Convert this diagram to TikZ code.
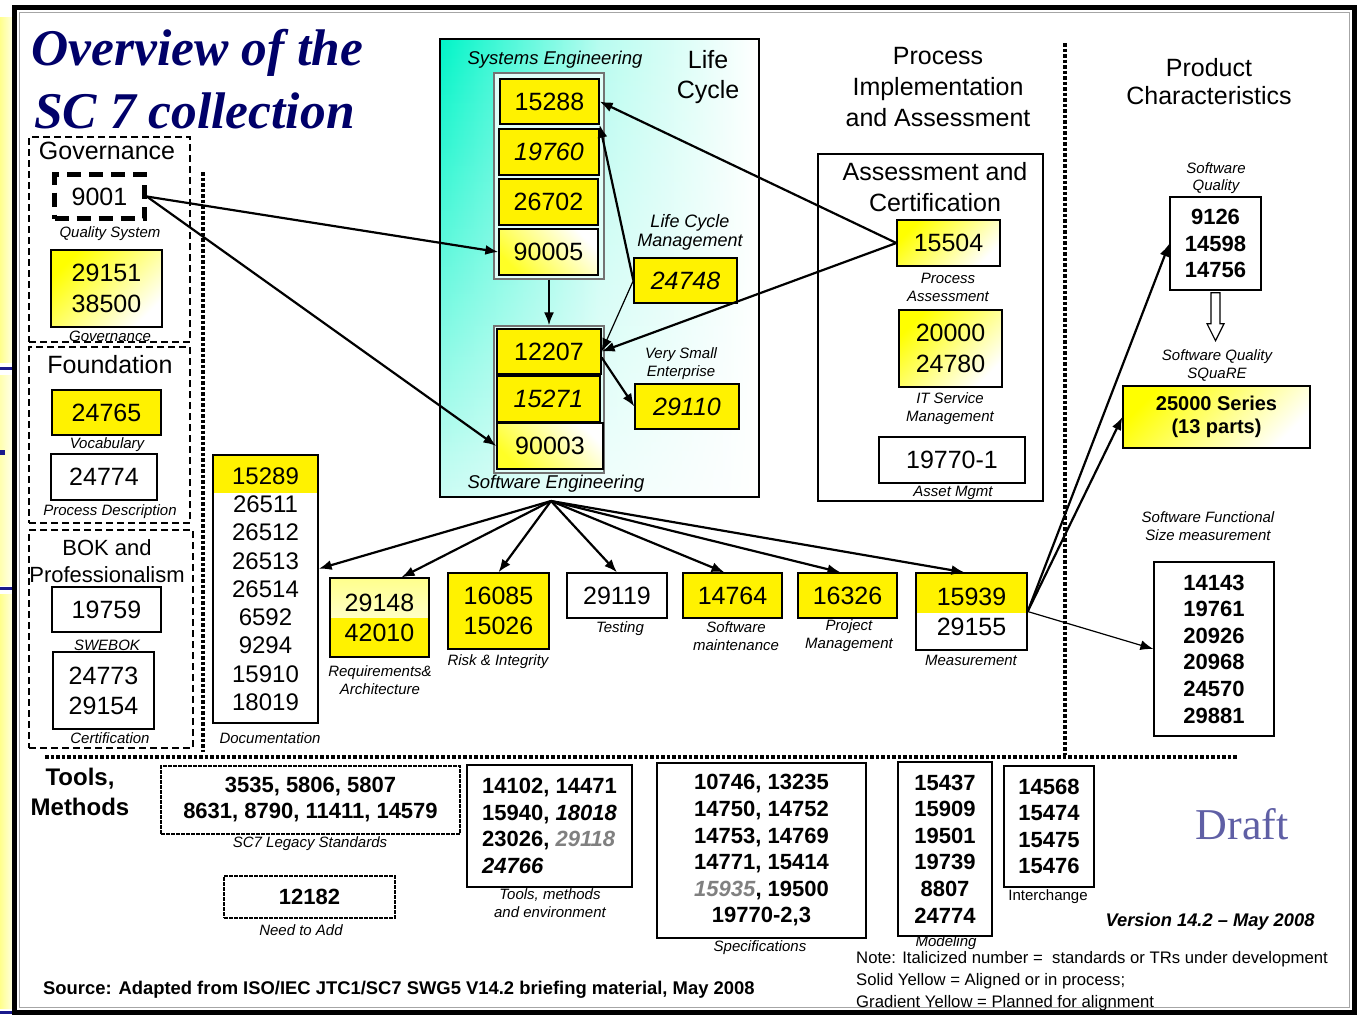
\documentclass[tikz,border=0pt]{standalone}
\usepackage{fontspec}
\setmainfont{Liberation Sans}
\newfontfamily\scserif{Liberation Serif}
\usepackage{tikz}
\usetikzlibrary{arrows.meta,positioning,calc,fadings}
\definecolor{scnavy}{RGB}{0,0,105}
\definecolor{scturq}{RGB}{0,245,200}
\definecolor{scdraft}{RGB}{95,95,165}
\definecolor{scstrip}{RGB}{255,255,140}
\definecolor{scblue}{RGB}{25,25,140}
\tikzset{
scbox/.style={rectangle,draw,line width=1.3pt,inner sep=0pt,align=center,font=\fontsize{25}{31}\selectfont},
scital/.style={font=\fontsize{25}{31}\selectfont\itshape},
scyellow/.style={fill=yellow},
scgrad/.style={top color=yellow,bottom color=white,shading angle=45},
scgradlow/.style={top color=white,bottom color=yellow!85,shading angle=-45},
scbold/.style={scbox,font=\fontsize{22}{26.6}\selectfont\bfseries},
scstack/.style={rectangle,draw=black!55,line width=1.2pt,fill=scturq!12,inner sep=0pt},
scgroup/.style={rectangle,draw,line width=1.8pt,dash pattern=on 7pt off 4pt,inner sep=0pt},
scpanel/.style={rectangle,draw,line width=2.2pt,inner sep=0pt},
sclegacy/.style={scbold,line width=1.5pt,dash pattern=on 4pt off 1pt},
schead/.style={align=center,font=\fontsize{25}{31}\selectfont},
sclabel/.style={align=center,font=\fontsize{15}{18}\selectfont\itshape},
scsmall/.style={align=center,font=\fontsize{18.5}{19}\selectfont\itshape},
scnote/.style={anchor=west,font=\fontsize{16.7}{20}\selectfont},
scsep/.style={line width=3.5pt,dash pattern=on 3.5pt off 2pt},
scarr/.style={-{Latex[length=13pt,width=10pt]},line width=2.2pt},
scthin/.style={-{Latex[length=13pt,width=10pt]},line width=1.2pt}
}
\begin{document}
\begin{tikzpicture}[x=1pt,y=-1pt,every node/.style={inner sep=0pt}]
\useasboundingbox (0,0) rectangle (1359,1015);
% slide frame and side strip
\fill[white] (0,0) rectangle (1359,1015);
\shade[left color=scstrip,right color=scstrip!25] (0,17) rectangle (13,362);
\shade[left color=scstrip!70,right color=scstrip!15] (0,375) rectangle (13,585);
\shade[left color=scstrip,right color=scstrip!25] (0,594) rectangle (13,1008);
\draw[scblue,line width=3pt] (0,368) -- (17,368);
\draw[scblue,line width=5pt] (0,452) -- (5,452);
\draw[scblue,line width=3pt] (0,588) -- (17,588);
\draw[scblue,line width=3pt] (0,1012) -- (15,1012);
\draw[line width=5pt] (14.5,7.5) rectangle (1354,1012.5);
\draw[black!35,line width=1pt] (19,12) rectangle (1349,1007);
% title
\node[anchor=base west,text=scnavy,font={\scserif\bfseries\itshape\fontsize{51.5}{60}\selectfont}]
  (title1) at (31,65) {Overview of the};
\node[anchor=base west,text=scnavy,font={\scserif\bfseries\itshape\fontsize{51.5}{60}\selectfont}]
  (title2) at (34,128) {SC 7 collection};
% governance, foundation, BOK
\node[scgroup,minimum width=161,minimum height=205] (govgrp) at (109.5,239.5) {};
\node[schead] (govhead) at (107,151) {Governance};
\node[scbox,line width=4.5pt,dash pattern=on 14pt off 8pt,minimum width=90,minimum height=44]
  (qsys) at (99.5,196.5) {9001};
\node[sclabel] (qsyslbl) at (110,234) {Quality System};
\node[scbox,scgrad,minimum width=111,minimum height=77] (govstd) at (106.5,288.5) {29151\\38500};
\node[sclabel] (govlbl) at (110,336) {Governance};
\node[scgroup,minimum width=161,minimum height=176] (fndgrp) at (109.5,435) {};
\node[schead] (fndhead) at (110,365) {Foundation};
\node[scbox,scyellow,minimum width=109,minimum height=45] (vocab) at (106.5,412.5) {24765};
\node[sclabel] (vocablbl) at (107,445) {Vocabulary};
\node[scbox,minimum width=106,minimum height=46] (procdesc) at (104,477) {24774};
\node[sclabel] (procdesclbl) at (110,512) {Process Description};
\node[scgroup,minimum width=164,minimum height=218] (bokgrp) at (111,639) {};
\node[schead,font=\fontsize{22}{27}\selectfont] (bokhead) at (107,561) {BOK and\\Professionalism};
\node[scbox,minimum width=109,minimum height=45] (swebok) at (106.5,609.5) {19759};
\node[sclabel] (sweboklbl) at (107,645) {SWEBOK};
\node[scbox,font=\fontsize{25}{30}\selectfont,minimum width=101,minimum height=77] (cert) at (103.5,690.5) {24773\\29154};
\node[sclabel] (certlbl) at (110,738) {Certification};
% separators
\draw[scsep] (203,172) -- (203,752);
\draw[scsep] (45,757) -- (1238,757);
\draw[scsep] (1065,43) -- (1065,755);
% life cycle
\node[scpanel,line width=2pt,left color=scturq,right color=white,middle color=scturq!28,
  path picture={\fill[white,path fading=north,fill opacity=0.8] (path picture bounding box.south west) rectangle (path picture bounding box.north east);},
  minimum width=319,minimum height=458] (lcpanel) at (599.5,268) {};
\node[scstack,minimum width=110,minimum height=206] (sysstack) at (549,176) {};
\node[scbox,scyellow,minimum width=99,minimum height=45] (sys15288) at (549.5,101.5) {15288};
\node[scbox,scyellow,scital,minimum width=100,minimum height=46] (sys19760) at (549,152) {19760};
\node[scbox,scyellow,minimum width=99,minimum height=46] (sys26702) at (548.5,202) {26702};
\node[scbox,scgradlow,minimum width=99,minimum height=46] (sys90005) at (548.5,252) {90005};
\node[scstack,minimum width=110,minimum height=147] (swstack) at (549,399.5) {};
\node[scbox,scyellow,minimum width=104,minimum height=45] (sw12207) at (549,351.5) {12207};
\node[scbox,scyellow,scital,minimum width=103,minimum height=46] (sw15271) at (548.5,399) {15271};
\node[scbox,scgradlow,minimum width=106,minimum height=46] (sw90003) at (550,446) {90003};
\node[scsmall] (syslbl) at (555,60) {Systems Engineering};
\node[scsmall] (swlbl) at (556,484) {Software Engineering};
\node[schead,font=\fontsize{25}{30}\selectfont] (lchead) at (708,77) {Life\\Cycle};
\node[scsmall,font=\fontsize{18}{19}\selectfont\itshape] (lcmlbl) at (690,232) {Life Cycle\\Management};
\node[scbox,scyellow,scital,minimum width=103,minimum height=45] (lcm) at (685.5,280.5) {24748};
\node[sclabel] (vselbl) at (681,364) {Very Small\\Enterprise};
\node[scbox,scyellow,scital,minimum width=104,minimum height=45] (vse) at (687,406.5) {29110};
% process implementation and assessment
\node[schead] (pimhead) at (938,87) {Process\\Implementation\\and Assessment};
\node[scpanel,minimum width=225,minimum height=347] (acpanel) at (930.5,327.5) {};
\node[schead] (achead) at (935,187.5) {Assessment and\\Certification};
\node[scbox,scgrad,minimum width=103,minimum height=46] (procass) at (948.5,243) {15504};
\node[sclabel] (procasslbl) at (948,287) {Process\\Assessment};
\node[scbox,scgrad,minimum width=103,minimum height=77] (itsm) at (950.5,348.5) {20000\\24780};
\node[sclabel] (itsmlbl) at (950,409) {IT Service\\Management};
\node[scbox,minimum width=146,minimum height=46] (asset) at (952,460) {19770-1};
\node[sclabel] (assetlbl) at (953,493) {Asset Mgmt};
% product characteristics
\node[schead,font=\fontsize{25}{28}\selectfont] (prodhead) at (1209,82) {Product\\Characteristics};
\node[sclabel,font=\fontsize{15}{17}\selectfont\itshape] (swqlbl) at (1216,178) {Software\\Quality};
\node[scbold,minimum width=91,minimum height=93] (swq) at (1215.5,243.5) {9126\\14598\\14756};
\node[sclabel] (squarelbl) at (1217,365) {Software Quality\\SQuaRE};
\node[scbold,scgrad,font=\fontsize{20}{23}\selectfont\bfseries,minimum width=187,minimum height=62]
  (square) at (1216.5,417) {25000 Series\\(13 parts)};
\node[sclabel] (fsmlbl) at (1208,526) {Software Functional\\Size measurement};
\node[scbold,minimum width=120,minimum height=174] (fsm) at (1214,649) {14143\\19761\\20926\\20968\\24570\\29881};
% software engineering areas
\node[scbox,font=\fontsize{24}{28.25}\selectfont,minimum width=105,minimum height=268,
  path picture={\fill[yellow] (path picture bounding box.north west) rectangle ([yshift=-38pt]path picture bounding box.north east);}]
  (docs) at (265.5,589) {15289\\26511\\26512\\26513\\26514\\6592\\9294\\15910\\18019};
\node[sclabel] (docslbl) at (270,738) {Documentation};
\node[scbox,font=\fontsize{25}{30}\selectfont,minimum width=99,minimum height=79,
  path picture={\shade[top color=yellow!45,bottom color=white] (path picture bounding box.north west) rectangle ([yshift=-40pt]path picture bounding box.north east);
  \fill[yellow] ([yshift=-40pt]path picture bounding box.north west) rectangle (path picture bounding box.south east);}]
  (reqarch) at (379.5,617.5) {29148\\42010};
\node[sclabel] (reqarchlbl) at (380,680) {Requirements\&\\Architecture};
\node[scbox,scyellow,font=\fontsize{25}{30}\selectfont,minimum width=101,minimum height=76] (risk) at (498.5,611) {16085\\15026};
\node[sclabel] (risklbl) at (498,662) {Risk \& Integrity};
\node[scbox,minimum width=100,minimum height=45] (testing) at (617,595.5) {29119};
\node[sclabel] (testinglbl) at (620,629) {Testing};
\node[scbox,scyellow,minimum width=99,minimum height=45] (maint) at (732.5,595.5) {14764};
\node[sclabel] (maintlbl) at (736,636) {Software\\maintenance};
\node[scbox,scyellow,minimum width=99,minimum height=45] (projm) at (847.5,595.5) {16326};
\node[sclabel] (projmlbl) at (849,636) {Project\\Management};
\node[scbox,font=\fontsize{25}{30}\selectfont,minimum width=111,minimum height=77,
  path picture={\fill[yellow] (path picture bounding box.north west) rectangle ([yshift=-40pt]path picture bounding box.north east);}]
  (meas) at (971.5,611.5) {15939\\29155};
\node[sclabel] (measlbl) at (971,660) {Measurement};
% tools and methods
\node[align=center,font=\fontsize{24}{30}\selectfont\bfseries] (toolshead) at (80,792) {Tools,\\Methods};
\node[sclegacy,font=\fontsize{22}{26}\selectfont\bfseries,minimum width=299,minimum height=68]
  (legacy) at (310.5,800) {3535, 5806, 5807\\8631, 8790, 11411, 14579};
\node[sclabel] (legacylbl) at (310,844) {SC7 Legacy Standards};
\node[sclegacy,minimum width=171,minimum height=42] (needadd) at (309.5,897) {12182};
\node[sclabel] (needaddlbl) at (301,930) {Need to Add};
\node[scbold,align=left,minimum width=165,minimum height=122]
  (toolsenv) at (549.5,826) {14102, 14471\\15940, \textit{18018}\\23026, \textcolor{gray}{\textit{29118}}\\\textit{24766}};
\node[sclabel] (toolsenvlbl) at (550,903) {Tools, methods\\and environment};
\node[scbold,minimum width=209,minimum height=175]
  (specs) at (761.5,850.5) {10746, 13235\\14750, 14752\\14753, 14769\\14771, 15414\\\textcolor{gray}{\textit{15935}}, 19500\\19770-2,3};
\node[sclabel] (specslbl) at (760,948) {Specifications};
\node[scbold,minimum width=94,minimum height=174] (modeling) at (945,849) {15437\\15909\\19501\\19739\\8807\\24774};
\node[sclabel] (modelinglbl) at (946,943) {Modeling};
\node[scbold,minimum width=90,minimum height=121] (interch) at (1049,826.5) {14568\\15474\\15475\\15476};
\node[align=center,font=\fontsize{15}{18}\selectfont] (interchlbl) at (1048,897) {Interchange};
% footer texts
\node[text=scdraft,font={\scserif\fontsize{44}{44}\selectfont}] (draft) at (1242,824) {Draft};
\node[font=\fontsize{18.3}{22}\selectfont\bfseries\itshape] (version) at (1210,922) {Version 14.2 -- May 2008};
\node[scnote] (note1) at (856,959) {Note: Italicized number =\ \ standards or TRs under development};
\node[scnote] (note2) at (856,981) {Solid Yellow = Aligned or in process;};
\node[scnote] (note3) at (856,1003) {Gradient Yellow = Planned for alignment};
\node[anchor=west,font=\fontsize{18.4}{22}\selectfont\bfseries] (source) at (43,990)
  {Source: Adapted from ISO/IEC JTC1/SC7 SWG5 V14.2 briefing material, May 2008};
% connectors
\coordinate (sefan) at (551,501);
\draw[scarr] (qsys.east) -- (sys90005.west);
\draw[scarr] (qsys.east) -- (sw90003.west);
\draw[scarr] (sysstack.south) -- (swstack.north);
\draw[scarr] (lcm.west) -- (sys15288.south east);
\draw[scthin] (lcm.west) -- (sw12207.east);
\draw[scarr] ([yshift=-6pt]sw12207.east) -- (vse.west);
\draw[scarr] (procass.west) -- (sys15288.east);
\draw[scarr] (procass.west) -- (sw12207.east);
\draw[scarr] (sefan) -- ($(docs.north east)!0.425!(docs.south east)$);
\draw[scarr] (sefan) -- ($(reqarch.north)+(22,0)$);
\draw[scarr] (sefan) -- (risk.north);
\draw[scarr] (sefan) -- (testing.north);
\draw[scarr] (sefan) -- ($(maint.north)+(-8,0)$);
\draw[scarr] (sefan) -- ($(projm.north)+(-7,0)$);
\draw[scarr] (sefan) -- ($(meas.north)+(-7,0)$);
\draw[scarr] (meas.east) -- (swq.west);
\draw[scarr] (meas.east) -- (square.west);
\draw[scthin] (meas.east) -- (fsm.west);
\draw[line width=1.2pt,fill=white] ($(swq.south)+(-4.5,2)$) -- ++(0,31) -- ++(-4,0) -- ++(8.5,17)
  -- ++(8.5,-17) -- ++(-4,0) -- ++(0,-31) -- cycle;
\end{tikzpicture}
\end{document}
